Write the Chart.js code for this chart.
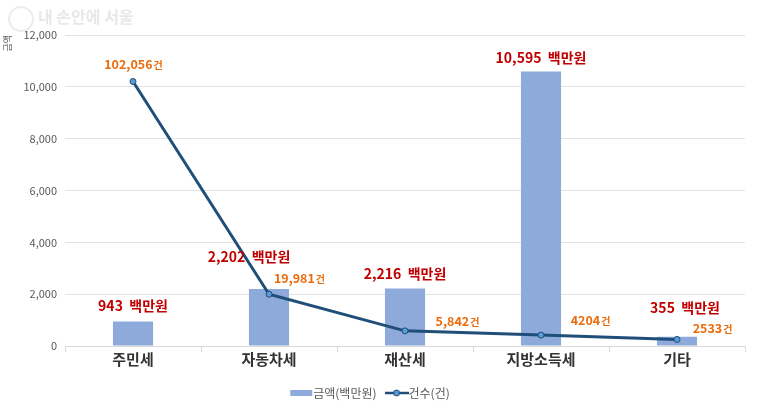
<!DOCTYPE html>
<html>
<head>
<meta charset="utf-8">
<script src="https://cdn.jsdelivr.net/npm/chart.js@4"></script>
<style>
  html, body { margin: 0; padding: 0; background: #fff; }
  #wrap { position: relative; width: 760px; height: 417px; }
  #mark { position: absolute; left: 8px; top: 4px; font: bold 16px "Noto Sans CJK KR"; color: #e8e8e8; }
  #mark span { display: inline-block; width: 22px; height: 22px; border: 2px solid #ececec; border-radius: 50%; vertical-align: middle; margin-right: 4px; }
</style>
</head>
<body>
<div id="wrap">
  <canvas id="c" width="760" height="417"></canvas>
  <div id="mark"><span></span>내 손안에 서울</div>
</div>
<script>
const categories = ['주민세', '자동차세', '재산세', '지방소득세', '기타'];
const amounts = [943, 2202, 2216, 10595, 355];          // 금액(백만원)
const counts = [102056, 19981, 5842, 4204, 2533];      // 건수(건)
const amountLabels = ['943', '2,202', '2,216', '10,595', '355'];
const countLabels = ['102,056', '19,981', '5,842', '4204', '2533'];

const FONT = '"Noto Sans CJK KR", "Noto Sans", sans-serif';
const BAR_COLOR = '#8eaadb';
const LINE_COLOR = '#1f4e79';

// label offsets (px) from bar top / point centre
const barOffsets = [[0, -16], [-20, -32], [0, -15], [0, -14], [8, -29]];
const pointOffsets = [[0, -17], [30, -16], [52, -10], [49, -15], [35, -11]];

function swatch(type) {
  const cv = document.createElement('canvas');
  cv.width = 24; cv.height = 10;
  const g = cv.getContext('2d');
  if (type === 'bar') {
    g.fillStyle = BAR_COLOR;
    g.fillRect(1, 2, 22, 6);
  } else {
    g.strokeStyle = LINE_COLOR;
    g.lineWidth = 2.5;
    g.beginPath(); g.moveTo(0, 5); g.lineTo(24, 5); g.stroke();
    g.beginPath(); g.arc(12, 5, 3, 0, Math.PI * 2);
    g.fillStyle = '#5b9bd5'; g.fill();
    g.lineWidth = 1; g.stroke();
  }
  return cv;
}

const valueLabels = {
  id: 'valueLabels',
  afterDatasetsDraw(chart) {
    const ctx = chart.ctx;
    ctx.save();
    ctx.textBaseline = 'middle';
    chart.getDatasetMeta(0).data.forEach((el, i) => {
      const [dx, dy] = barOffsets[i];
      ctx.font = 'bold 14px ' + FONT;
      ctx.fillStyle = '#c00000';
      ctx.textAlign = 'center';
      ctx.fillText(amountLabels[i] + '  백만원', el.x + dx, el.y + dy);
    });
    chart.getDatasetMeta(1).data.forEach((el, i) => {
      const [dx, dy] = pointOffsets[i];
      ctx.font = 'bold 12.5px ' + FONT;
      const w1 = ctx.measureText(countLabels[i]).width;
      ctx.font = 'bold 10px ' + FONT;
      const w2 = ctx.measureText('건').width;
      const x0 = el.x + dx - (w1 + w2) / 2;
      ctx.fillStyle = '#eb6b0c';
      ctx.textAlign = 'left';
      ctx.font = 'bold 12.5px ' + FONT;
      ctx.fillText(countLabels[i], x0, el.y + dy);
      ctx.font = 'bold 10px ' + FONT;
      ctx.fillText('건', x0 + w1 + 1, el.y + dy + 1);
    });
    ctx.restore();
  }
};

new Chart(document.getElementById('c'), {
  data: {
    labels: categories,
    datasets: [
      {
        type: 'bar',
        label: '금액(백만원)',
        data: amounts,
        backgroundColor: BAR_COLOR,
        barPercentage: 0.5,
        categoryPercentage: 0.59,
        yAxisID: 'y',
        order: 2
      },
      {
        type: 'line',
        label: '건수(건)',
        data: counts,
        borderColor: LINE_COLOR,
        borderWidth: 3,
        pointRadius: 3,
        pointBackgroundColor: '#5b9bd5',
        pointBorderColor: LINE_COLOR,
        pointBorderWidth: 1,
        tension: 0,
        yAxisID: 'y1',
        order: 1
      }
    ]
  },
  options: {
    responsive: false,
    animation: false,
    layout: { padding: { left: 0, right: 15, top: 35, bottom: 8 } },
    plugins: {
      tooltip: { enabled: false },
      legend: {
        position: 'bottom',
        labels: {
          font: { family: FONT, size: 12 },
          color: '#595959',
          usePointStyle: true,
          padding: 14,
          generateLabels(chart) {
            return chart.data.datasets.map((ds, i) => ({
              text: ds.label,
              pointStyle: swatch(ds.type),
              fontColor: '#595959',
              datasetIndex: i,
              hidden: false
            }));
          }
        }
      }
    },
    scales: {
      x: {
        grid: { offset: true, drawOnChartArea: false, drawTicks: true, tickLength: 6, color: '#d9d9d9' },
        border: { color: '#d9d9d9' },
        ticks: { font: { family: FONT, size: 15, weight: 'bold' }, color: '#333333', padding: -2 },
        afterFit(scale) { scale.height = 27; }
      },
      y: {
        min: 0, max: 12000,
        ticks: {
          stepSize: 2000,
          font: { family: FONT, size: 11 },
          color: '#595959',
          padding: 8,
          callback: v => v.toLocaleString('en-US')
        },
        grid: { color: '#e3e3e3', drawTicks: false },
        border: { display: false },
        title: { display: true, text: '금액', align: 'end', font: { family: FONT, size: 9 }, color: '#595959', padding: { top: 2, bottom: 0 } },
        afterFit(scale) { scale.width = 65; }
      },
      y1: { min: 0, max: 120000, display: false }
    }
  },
  plugins: [valueLabels]
});
</script>
</body>
</html>
